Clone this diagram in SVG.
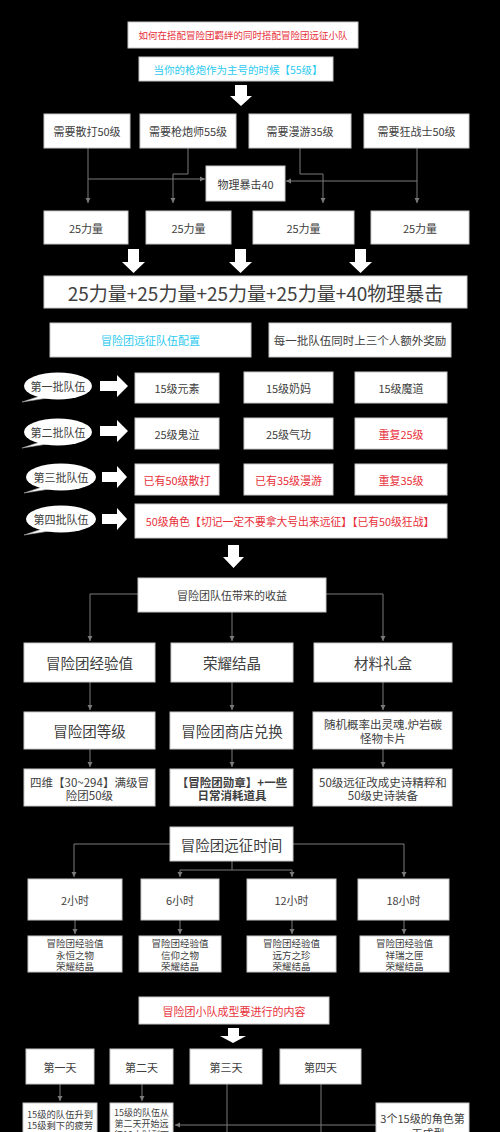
<svg xmlns="http://www.w3.org/2000/svg" width="500" height="1132" viewBox="0 0 500 1132">
<defs>
<style>
.b{fill:#fff;stroke:#c8c8c8;stroke-width:1}
.t{font-family:"Noto Sans CJK SC","Noto Sans",sans-serif;fill:#404040;text-anchor:middle;dominant-baseline:central}
.r{fill:#e8303a}
.c{fill:#2ccaf0}
.ln{stroke:#7a7a7a;stroke-width:1;fill:none}
.ar{marker-end:url(#ah)}
.w{fill:#fff}
</style>
<marker id="ah" markerWidth="6" markerHeight="6" refX="5" refY="3" orient="auto" markerUnits="userSpaceOnUse">
<path d="M0,0.5 L5,3 L0,5.5 Z" fill="#7a7a7a"/>
</marker>
</defs>
<rect width="500" height="1132" fill="#000"/>

<g id="connectors">
<path class="ln ar" d="M88,148 V203"/>
<path class="ln ar" d="M88,179 H205"/>
<path class="ln ar" d="M188,148 V174 H173 V203"/>
<path class="ln ar" d="M300,148 V174 H323 V203"/>
<path class="ln ar" d="M417,148 V203"/>
<path class="ln ar" d="M417,181 H286"/>
<path class="ln ar" d="M138,594 H90 V641"/>
<path class="ln ar" d="M326,594 H383 V641"/>
<path class="ln ar" d="M232,612 V641"/>
<path class="ln ar" d="M90,682 V710"/>
<path class="ln ar" d="M232,682 V710"/>
<path class="ln ar" d="M383,682 V710"/>
<path class="ln ar" d="M90,749 V767"/>
<path class="ln ar" d="M232,749 V767"/>
<path class="ln ar" d="M383,749 V767"/>
<path class="ln ar" d="M170,844 H74 V877"/>
<path class="ln ar" d="M293,844 H404 V877"/>
<path class="ln" d="M232,861 V870"/>
<path class="ln ar" d="M232,870 H180 V877"/>
<path class="ln ar" d="M232,870 H292 V877"/>
<path class="ln ar" d="M75,920 V934"/>
<path class="ln ar" d="M180,920 V934"/>
<path class="ln ar" d="M292,920 V934"/>
<path class="ln ar" d="M404,920 V934"/>
<path class="ln ar" d="M60,1084 V1101"/>
<path class="ln ar" d="M142,1084 V1101"/>
<path class="ln" d="M227,1084 V1132"/>
<path class="ln" d="M321,1084 V1132"/>
<path class="ln ar" d="M376,1125 H175"/>
</g>

<g id="bigarrows" class="w">
<path d="M235,85 H247 V96 H252 L241,106 L230,96 H235 Z"/>
<path d="M128,249 H139 V262 H145 L133.5,273 L122,262 H128 Z"/>
<path d="M235,249 H246 V262 H252 L240.5,273 L229,262 H235 Z"/>
<path d="M355,249 H366 V262 H372 L360.5,273 L349,262 H355 Z"/>
<path d="M228,545 H239 V557 H244 L233.5,568 L223,557 H228 Z"/>
<path d="M228,1028 H239 V1036 H246 L233,1043 L220,1036 H228 Z"/>
<path d="M100,381 H117 V375 L128,386 L117,397 V391 H100 Z"/>
<path d="M100,426 H117 V420 L128,431 L117,442 V436 H100 Z"/>
<path d="M102,472 H117 V466 L127,477 L117,488 V482 H102 Z"/>
<path d="M102,514 H117 V508 L127,519 L117,530 V524 H102 Z"/>
</g>

<g id="title"><rect class="b" x="128" y="22" width="230" height="26"/><text class="t r" x="243" y="35" font-size="9.5">如何在搭配冒险团羁绊的同时搭配冒险团远征小队</text></g>
<g id="main"><rect class="b" x="139" y="57" width="194" height="24"/><text class="t c" x="238" y="69" font-size="10.5">当你的枪炮作为主号的时候【55级】</text></g>

<g id="need1"><rect class="b" x="44" y="114" width="86" height="34"/><text class="t" x="87" y="131" font-size="11">需要散打50级</text></g>
<g id="need2"><rect class="b" x="140" y="114" width="96" height="34"/><text class="t" x="188" y="131" font-size="11">需要枪炮师55级</text></g>
<g id="need3"><rect class="b" x="249" y="114" width="102" height="34"/><text class="t" x="300" y="131" font-size="11">需要漫游35级</text></g>
<g id="need4"><rect class="b" x="364" y="114" width="105" height="34"/><text class="t" x="416.5" y="131" font-size="11">需要狂战士50级</text></g>
<g id="crit"><rect class="b" x="206" y="166" width="79" height="35"/><text class="t" x="245.5" y="183.5" font-size="11">物理暴击40</text></g>

<g id="str1"><rect class="b" x="44" y="211" width="84" height="33"/><text class="t" x="86" y="227.5" font-size="11">25力量</text></g>
<g id="str2"><rect class="b" x="146" y="211" width="85" height="33"/><text class="t" x="188.5" y="227.5" font-size="11">25力量</text></g>
<g id="str3"><rect class="b" x="253" y="211" width="101" height="33"/><text class="t" x="303.5" y="227.5" font-size="11">25力量</text></g>
<g id="str4"><rect class="b" x="371" y="211" width="98" height="33"/><text class="t" x="420" y="227.5" font-size="11">25力量</text></g>

<g id="sum"><rect class="b" x="44" y="276" width="423" height="32"/><text class="t" x="255.5" y="292" font-size="19">25力量+25力量+25力量+25力量+40物理暴击</text></g>

<g id="config"><rect class="b" x="50" y="323" width="201" height="34"/><text class="t c" x="150.5" y="340" font-size="11">冒险团远征队伍配置</text></g>
<g id="bonus"><rect class="b" x="269" y="323" width="182" height="34"/><text class="t" x="360" y="340" font-size="11.5">每一批队伍同时上三个人额外奖励</text></g>

<g id="batch1"><path d="M40,396 L22,402 L48,398 Z" fill="#fff" stroke="#999" stroke-width="0.6"/><ellipse cx="58" cy="386" rx="34" ry="13.5" fill="#fff"/><text class="t" x="58" y="386" font-size="11">第一批队伍</text></g>
<g id="batch2"><path d="M40,442 L22,448 L48,444 Z" fill="#fff" stroke="#999" stroke-width="0.6"/><ellipse cx="58" cy="432" rx="34" ry="13.5" fill="#fff"/><text class="t" x="58" y="432" font-size="11">第二批队伍</text></g>
<g id="batch3"><path d="M42,487 L24,493 L50,489 Z" fill="#fff" stroke="#999" stroke-width="0.6"/><ellipse cx="61" cy="477" rx="35" ry="13.5" fill="#fff"/><text class="t" x="61" y="477" font-size="11">第三批队伍</text></g>
<g id="batch4"><path d="M42,529 L24,535 L50,531 Z" fill="#fff" stroke="#999" stroke-width="0.6"/><ellipse cx="61" cy="519" rx="35" ry="13.5" fill="#fff"/><text class="t" x="61" y="519" font-size="11">第四批队伍</text></g>

<g id="r1a"><rect class="b" x="135" y="373" width="84" height="30"/><text class="t" x="177" y="388" font-size="11">15级元素</text></g>
<g id="r1b"><rect class="b" x="244" y="372" width="89" height="31"/><text class="t" x="288.5" y="387.5" font-size="11">15级奶妈</text></g>
<g id="r1c"><rect class="b" x="355" y="372" width="92" height="31"/><text class="t" x="401" y="387.5" font-size="11">15级魔道</text></g>
<g id="r2a"><rect class="b" x="135" y="418" width="84" height="31"/><text class="t" x="177" y="433.5" font-size="11">25级鬼泣</text></g>
<g id="r2b"><rect class="b" x="244" y="418" width="89" height="31"/><text class="t" x="288.5" y="433.5" font-size="11">25级气功</text></g>
<g id="r2c"><rect class="b" x="355" y="418" width="92" height="31"/><text class="t r" x="401" y="433.5" font-size="11">重复25级</text></g>
<g id="r3a"><rect class="b" x="135" y="464" width="84" height="31"/><text class="t r" x="177" y="479.5" font-size="11">已有50级散打</text></g>
<g id="r3b"><rect class="b" x="244" y="464" width="89" height="31"/><text class="t r" x="288.5" y="479.5" font-size="11">已有35级漫游</text></g>
<g id="r3c"><rect class="b" x="355" y="464" width="92" height="31"/><text class="t r" x="401" y="479.5" font-size="11">重复35级</text></g>
<g id="r4"><rect class="b" x="135" y="504" width="312" height="34"/><text class="t r" x="290" y="521" font-size="10.8">50级角色【切记一定不要拿大号出来远征】【已有50级狂战】</text></g>

<g id="gain"><rect class="b" x="138" y="578" width="188" height="34"/><text class="t" x="232" y="595" font-size="11">冒险团队伍带来的收益</text></g>
<g id="a1"><rect class="b" x="24" y="643" width="131" height="39"/><text class="t" x="89.5" y="662.5" font-size="14.5">冒险团经验值</text></g>
<g id="a2"><rect class="b" x="171" y="643" width="122" height="39"/><text class="t" x="232" y="662.5" font-size="14.5">荣耀结晶</text></g>
<g id="a3"><rect class="b" x="314" y="643" width="138" height="39"/><text class="t" x="383" y="662.5" font-size="14.5">材料礼盒</text></g>
<g id="b1"><rect class="b" x="24" y="712" width="131" height="37"/><text class="t" x="89.5" y="730.5" font-size="14.5">冒险团等级</text></g>
<g id="b2"><rect class="b" x="170" y="712" width="123" height="37"/><text class="t" x="232" y="730.5" font-size="14.5">冒险团商店兑换</text></g>
<g id="b3"><rect class="b" x="313" y="712" width="139" height="37"/><text class="t" x="383" y="724" font-size="11.5">随机概率出灵魂.炉岩碳</text><text class="t" x="383" y="737.5" font-size="11.5">怪物卡片</text></g>
<g id="c1"><rect class="b" x="24" y="769" width="131" height="37"/><text class="t" x="89.5" y="782" font-size="11.5">四维【30~294】满级冒</text><text class="t" x="89.5" y="795" font-size="11.5">险团50级</text></g>
<g id="c2"><rect class="b" x="170" y="769" width="123" height="37"/><text class="t" x="232" y="782" font-size="11.5" font-weight="bold">【冒险团勋章】+一些</text><text class="t" x="232" y="795" font-size="11.5" font-weight="bold">日常消耗道具</text></g>
<g id="c3"><rect class="b" x="313" y="769" width="139" height="37"/><text class="t" x="383" y="782" font-size="11.5">50级远征改成史诗精粹和</text><text class="t" x="383" y="795" font-size="11.5">50级史诗装备</text></g>

<g id="time"><rect class="b" x="170" y="827" width="123" height="34"/><text class="t" x="231.5" y="844" font-size="14.5">冒险团远征时间</text></g>
<g id="t2"><rect class="b" x="28" y="879" width="94" height="41"/><text class="t" x="75" y="899.5" font-size="11">2小时</text></g>
<g id="t6"><rect class="b" x="141" y="879" width="78" height="41"/><text class="t" x="180" y="899.5" font-size="11">6小时</text></g>
<g id="t12"><rect class="b" x="247" y="879" width="89" height="41"/><text class="t" x="291.5" y="899.5" font-size="11">12小时</text></g>
<g id="t18"><rect class="b" x="358" y="879" width="91" height="41"/><text class="t" x="403.5" y="899.5" font-size="11">18小时</text></g>
<g id="d2"><rect class="b" x="28" y="936" width="94" height="36"/><text class="t" x="75" y="943" font-size="9.5">冒险团经验值</text><text class="t" x="75" y="954.5" font-size="9.5">永恒之物</text><text class="t" x="75" y="966" font-size="9.5">荣耀结晶</text></g>
<g id="d6"><rect class="b" x="139" y="936" width="82" height="36"/><text class="t" x="180" y="943" font-size="9.5">冒险团经验值</text><text class="t" x="180" y="954.5" font-size="9.5">信仰之物</text><text class="t" x="180" y="966" font-size="9.5">荣耀结晶</text></g>
<g id="d12"><rect class="b" x="247" y="936" width="89" height="36"/><text class="t" x="291.5" y="943" font-size="9.5">冒险团经验值</text><text class="t" x="291.5" y="954.5" font-size="9.5">远方之珍</text><text class="t" x="291.5" y="966" font-size="9.5">荣耀结晶</text></g>
<g id="d18"><rect class="b" x="360" y="936" width="89" height="36"/><text class="t" x="404.5" y="943" font-size="9.5">冒险团经验值</text><text class="t" x="404.5" y="954.5" font-size="9.5">祥瑞之匣</text><text class="t" x="404.5" y="966" font-size="9.5">荣耀结晶</text></g>

<g id="form"><rect class="b" x="139" y="997" width="190" height="27"/><text class="t r" x="234" y="1010.5" font-size="11">冒险团小队成型要进行的内容</text></g>
<g id="day1"><rect class="b" x="26" y="1049" width="68" height="35"/><text class="t" x="60" y="1066.5" font-size="11">第一天</text></g>
<g id="day2"><rect class="b" x="110" y="1049" width="63" height="35"/><text class="t" x="141.5" y="1066.5" font-size="11">第二天</text></g>
<g id="day3"><rect class="b" x="190" y="1049" width="72" height="35"/><text class="t" x="226" y="1066.5" font-size="11">第三天</text></g>
<g id="day4"><rect class="b" x="280" y="1049" width="81" height="35"/><text class="t" x="320.5" y="1066.5" font-size="11">第四天</text></g>
<g id="e1"><rect class="b" x="23" y="1103" width="74" height="40"/><text class="t" x="60" y="1113.5" font-size="9.3">15级的队伍升到</text><text class="t" x="60" y="1125" font-size="9.3">15级剩下的疲劳</text></g>
<g id="e2"><rect class="b" x="110" y="1103" width="63" height="40"/><text class="t" x="141.5" y="1112" font-size="9">15级的队伍从</text><text class="t" x="141.5" y="1123" font-size="9">第二天开始远</text><text class="t" x="141.5" y="1134" font-size="9">征10小时剩下</text></g>
<g id="e3"><rect class="b" x="376" y="1103" width="93" height="40"/><text class="t" x="422.5" y="1118" font-size="11">3个15级的角色第</text><text class="t" x="422.5" y="1133" font-size="11">一天成型</text></g>
</svg>
